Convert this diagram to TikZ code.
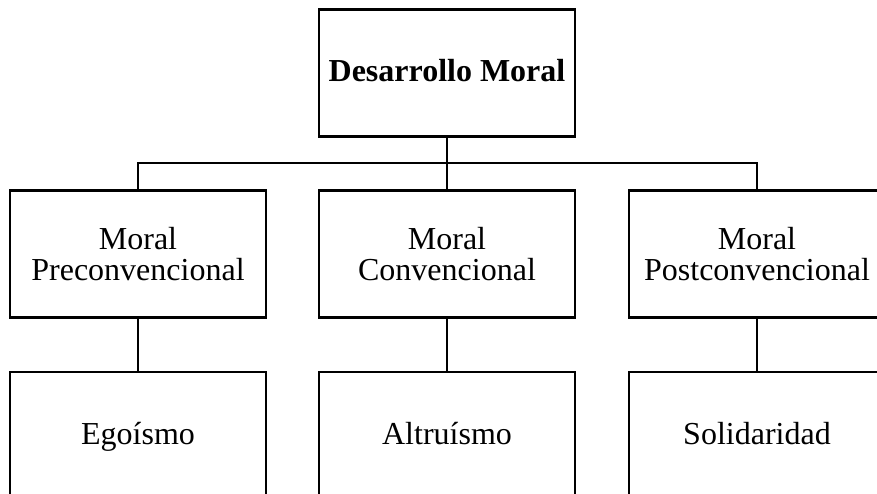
\documentclass[tikz,border=0pt]{standalone}
\usepackage{fontspec}
\setmainfont{Liberation Serif}
\begin{document}
\begin{tikzpicture}[x=1pt,y=-1pt,
  box/.style={draw=black, line width=2.4pt, rectangle, minimum width=256pt, minimum height=127pt, inner sep=0pt, align=center, font=\fontsize{32}{31.5}\selectfont},
  oneline/.style={text height=24pt, text depth=6pt},
  conn/.style={draw=black, line width=2.4pt}]
\useasboundingbox (0,0) rectangle (877,494);
\clip (0,0) rectangle (877,494);
\node[box, oneline, font=\fontsize{32}{31.5}\selectfont\bfseries] (top) at (447,73) {Desarrollo Moral};
\node[box] (m1) at (138,254) {Moral\\Preconvencional};
\node[box] (m2) at (447,254) {Moral\\Convencional};
\node[box] (m3) at (757,254) {Moral\\Postconvencional};
\node[box, oneline] (b1) at (138,435.5) {Egoísmo};
\node[box, oneline] (b2) at (447,435.5) {Altruísmo};
\node[box, oneline] (b3) at (757,435.5) {Solidaridad};
\coordinate (bus) at (447,163);
\draw[conn] (top.south) -- (m2.north);
\draw[conn] (m1.north) |- (bus) -| (m3.north);
\draw[conn] (m1.south) -- (b1.north);
\draw[conn] (m2.south) -- (b2.north);
\draw[conn] (m3.south) -- (b3.north);
\end{tikzpicture}
\end{document}
